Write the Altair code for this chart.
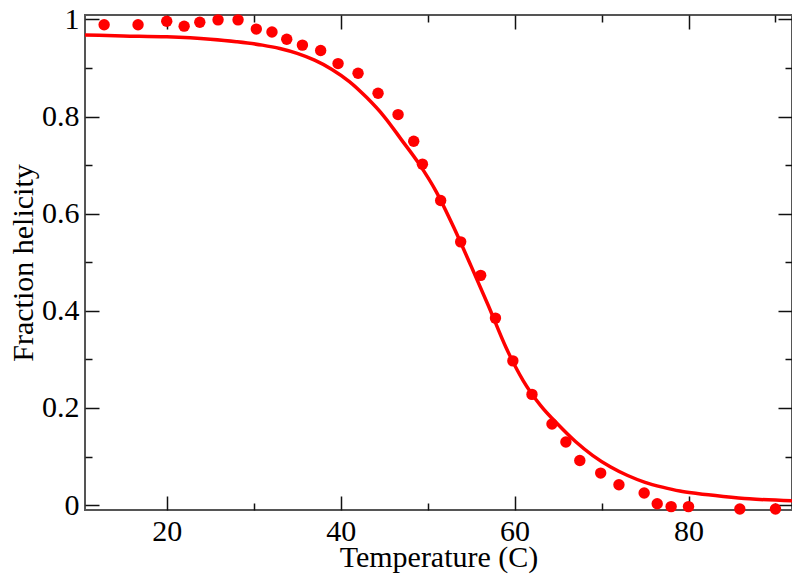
import altair as alt
import pandas as pd

# Observed fraction helicity (points)
temp_obs = [12.8, 16.7, 20.0, 22.0, 23.8, 25.9, 28.2, 30.3, 32.1, 33.8, 35.6, 37.7,
            39.7, 42.0, 44.3, 46.6, 48.4, 49.4, 51.5, 53.8, 56.1, 57.8, 59.8, 62.0,
            64.3, 65.9, 67.5, 69.9, 72.0, 74.9, 76.4, 78.0, 80.0, 85.9, 90.0]
helix_obs = [0.989, 0.989, 0.996, 0.986, 0.994, 0.999, 0.999, 0.980, 0.974, 0.959, 0.947, 0.936,
             0.909, 0.889, 0.848, 0.804, 0.749, 0.702, 0.627, 0.542, 0.473, 0.385, 0.297, 0.228,
             0.167, 0.130, 0.092, 0.066, 0.042, 0.025, 0.003, -0.003, -0.003, -0.008, -0.008]

# Fitted curve (line)
temp_fit = [10.6, 15, 20, 25, 28, 31, 33, 35, 37, 39, 41, 43, 45, 47, 49, 51, 53, 55, 57,
            59, 61, 63, 65, 67, 69, 71, 73, 75, 77, 79, 81, 84, 87, 91.9]
helix_fit = [0.968, 0.966, 0.964, 0.959, 0.954, 0.947, 0.940, 0.930, 0.916, 0.897, 0.872, 0.839,
             0.800, 0.752, 0.703, 0.645, 0.572, 0.492, 0.410, 0.325, 0.256, 0.205, 0.166, 0.131,
             0.102, 0.079, 0.061, 0.047, 0.037, 0.029, 0.024, 0.018, 0.013, 0.009]

x_major = [20, 40, 60, 80]
x_minor = [30, 50, 70, 90]
y_major = [0, 0.2, 0.4, 0.6, 0.8, 1]
y_minor = [0.1, 0.3, 0.5, 0.7, 0.9]

obs = pd.DataFrame({"T": temp_obs, "f": helix_obs})
fit = pd.DataFrame({"T": temp_fit, "f": helix_fit})

FONT = "Liberation Serif"
RED = "#ff0000"
xs = alt.Scale(domain=[10.6, 91.9], nice=False, zero=False)
ys = alt.Scale(domain=[-0.01, 1.009], nice=False, zero=False)

common = dict(domain=False, grid=False, tickColor="#111111", tickWidth=1.5,
              labelFont=FONT, labelFontSize=30, labelColor="black",
              titleFont=FONT, titleFontSize=30, titleFontWeight="normal", titleColor="black")


def tick_axis(orient, values, size, fmt, labels=False, **kw):
    return alt.Axis(orient=orient, values=values, offset=-size, tickSize=size,
                    labels=labels, format=fmt, **{**common, **kw})


line = alt.Chart(fit).mark_line(color=RED, strokeWidth=3.5, interpolate="monotone").encode(
    x=alt.X("T:Q", scale=xs, axis=tick_axis(
        "bottom", x_major, 14, "d", labels=True, labelPadding=6,
        title="Temperature (C)", titleBaseline="alphabetic", titleY=70)),
    y=alt.Y("f:Q", scale=ys, axis=tick_axis(
        "left", y_major, 14, ".1~f", labels=True, labelPadding=6,
        title="Fraction helicity", titleBaseline="alphabetic", titleX=-67)),
)

points = alt.Chart(obs).mark_circle(color=RED, size=130, opacity=1).encode(
    x=alt.X("T:Q", scale=xs, axis=tick_axis("top", x_major, 14, "d", title="")),
    y=alt.Y("f:Q", scale=ys, axis=tick_axis("right", y_major, 14, ".1~f", title="")),
)

minor_a = alt.Chart(fit).mark_point(opacity=0).encode(
    x=alt.X("T:Q", scale=xs, axis=tick_axis("bottom", x_minor, 7, "d", title="")),
    y=alt.Y("f:Q", scale=ys, axis=tick_axis("left", y_minor, 7, ".1~f", title="")),
)

minor_b = alt.Chart(fit).mark_point(opacity=0).encode(
    x=alt.X("T:Q", scale=xs, axis=tick_axis("top", x_minor, 7, "d", title="")),
    y=alt.Y("f:Q", scale=ys, axis=tick_axis("right", y_minor, 7, ".1~f", title="")),
)

chart = alt.layer(minor_a, minor_b, line, points).resolve_axis(
    x="independent", y="independent"
).properties(
    width=707, height=495,
    autosize=alt.AutoSizeParams(type="none"),
    padding={"left": 77, "top": 7, "right": 0, "bottom": 64},
).configure_view(stroke="#555555", strokeWidth=2)

chart.save("out.html", embed_options={"renderer": "svg", "actions": False})
